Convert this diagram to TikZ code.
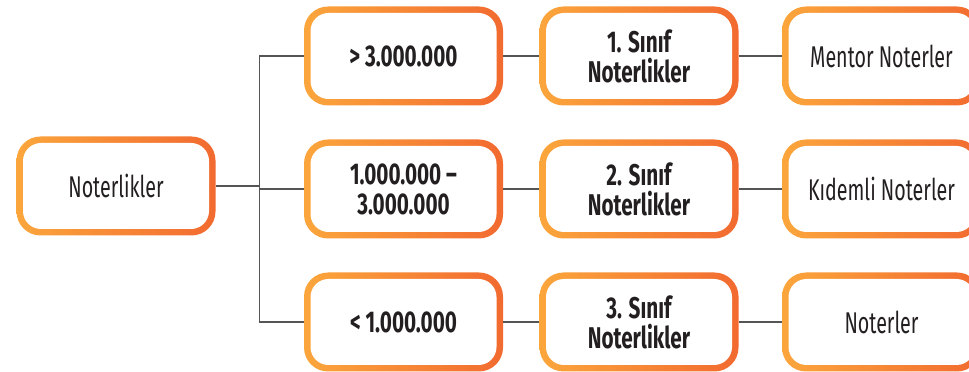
\documentclass[tikz,border=0pt]{standalone}
\usepackage{fontspec}
\setmainfont{Fira Sans}[FakeStretch=0.655, BoldFeatures={FakeStretch=0.69}]
\definecolor{tier-warm}{HTML}{FBA63C}
\definecolor{tier-hot}{HTML}{F26A30}
\definecolor{link-grey}{HTML}{555555}
\definecolor{ink}{HTML}{231F20}

\begin{document}
\begin{tikzpicture}[x=1pt, y=1pt,
    tier/.style={rounded corners=24pt, minimum width=199pt, minimum height=99pt,
      left color=tier-warm, right color=tier-hot, align=center, text=ink,
      font=\fontsize{30}{30}\selectfont,
      path picture={\fill[white, rounded corners=18pt]
        ([shift={(6.5pt,6.5pt)}]path picture bounding box.south west) rectangle
        ([shift={(-6.5pt,-6.5pt)}]path picture bounding box.north east);}},
    heavy/.style={font=\fontsize{30}{30}\selectfont\bfseries},
    link/.style={draw=link-grey, line width=1.6pt}]
    \useasboundingbox (0,0) rectangle (969,372);
    % root
    \node[tier] (root) at (116,186) {Noterlikler};
    % thresholds
    \node[tier, heavy] (limit1) at (403.5,316) {> 3.000.000};
    \node[tier, heavy] (limit2) at (403.5,183) {1.000.000 --\\ 3.000.000};
    \node[tier, heavy] (limit3) at (403.5,50) {< 1.000.000};
    % classes
    \node[tier, heavy] (class1) at (639,316) {1. Sınıf\\ Noterlikler};
    \node[tier, heavy] (class2) at (639,183) {2. Sınıf\\ Noterlikler};
    \node[tier, heavy] (class3) at (639,50) {3. Sınıf\\ Noterlikler};
    % titles
    \node[tier] (title1) at (881.5,316) {Mentor Noterler};
    \node[tier] (title2) at (881.5,183) {Kıdemli Noterler};
    \node[tier] (title3) at (881.5,50) {Noterler};
    % connectors
    \coordinate (bus) at (259.5,0);
    \draw[link] (root.east) -- (root.east -| bus);
    \draw[link] (limit1.west) -| (bus |- limit3.west) -- (limit3.west);
    \draw[link] (bus |- limit2.west) -- (limit2.west);
    \foreach \i in {1,2,3} {
      \draw[link] (limit\i.east) -- (class\i.west);
      \draw[link] (class\i.east) -- (title\i.west);
    }
\end{tikzpicture}
\end{document}
